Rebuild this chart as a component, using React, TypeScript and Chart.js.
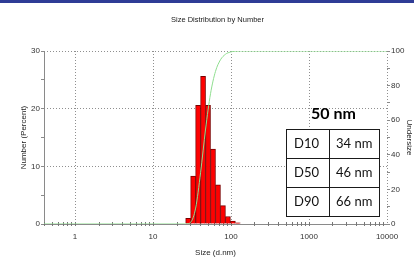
import React, { useEffect, useRef } from "react";
import { Chart, registerables } from "chart.js";

Chart.register(...registerables);

// ---- data ----
const chartTitle = "Size Distribution by Number";
const xTitle = "Size (d.nm)";
const yTitle = "Number (Percent)";
const y1Title = "Undersize";

const binSizes = [28.21, 32.67, 37.84, 43.82, 50.75, 58.77, 68.06, 78.82, 91.28, 105.7, 122.4];
const numberPercent = [1.0, 8.3, 20.6, 25.6, 20.6, 13.0, 6.8, 3.2, 1.3, 0.5, 0.2];

const undersizeSizes = [0.4, 26.2, 30.4, 35.2, 40.7, 47.2, 54.6, 63.2, 73.2, 84.8, 98.2, 113.7, 131.7, 10000];
const undersizeValues = [0, 0, 1.0, 9.2, 29.6, 54.9, 75.3, 88.2, 94.9, 98.1, 99.4, 99.9, 100, 100];

const xTickValues = [1, 10, 100, 1000, 10000];
const xMin = 0.4;
const xMax = 10000;

const headline = "50 nm";
const tableLabels = ["D10", "D50", "D90"];
const tableValues = ["34 nm", "46 nm", "66 nm"];

const TICK_FONT = "'Liberation Sans Narrow', 'Arial Narrow', 'Liberation Sans', Arial, sans-serif";
const TEXT_FONT = "'Liberation Sans', Arial, sans-serif";

const axisPlugin = {
  id: "axisLines",
  beforeDatasetsDraw(chart: any) {
    const { ctx, chartArea, scales } = chart;
    const { left, right, top, bottom } = chartArea;
    ctx.save();
    ctx.strokeStyle = "#8a8a8a";
    ctx.lineWidth = 1;
    ctx.setLineDash([]);
    ctx.beginPath();
    ctx.moveTo(left + 0.5, top);
    ctx.lineTo(left + 0.5, bottom + 0.5);
    ctx.lineTo(right, bottom + 0.5);
    ctx.stroke();
    // minor ticks along the log axis
    const xs = scales.x;
    ctx.strokeStyle = "#777";
    ctx.beginPath();
    for (let d = 0.1; d <= 1000; d *= 10) {
      for (let k = 1; k <= 9; k++) {
        const v = k * d;
        if (v < xMin || v > xMax) continue;
        const px = Math.round(xs.getPixelForValue(v)) + 0.5;
        ctx.moveTo(px, bottom - 2);
        ctx.lineTo(px, bottom + 2);
      }
    }
    ctx.stroke();
    ctx.restore();
  },
  afterDraw(chart: any) {
    const { ctx, chartArea } = chart;
    ctx.save();
    ctx.fillStyle = "#222";
    ctx.font = `7.5px ${TEXT_FONT}`;
    ctx.textAlign = "center";
    ctx.textBaseline = "middle";
    ctx.fillText(chartTitle, (chartArea.left + chartArea.right) / 2 + 2, 20);
    ctx.restore();
  },
};

function ChartCanvas() {
  const ref = useRef<HTMLCanvasElement | null>(null);
  useEffect(() => {
    if (!ref.current) return;
    const tickFont = { family: TICK_FONT, size: 8 };
    const titleFont = { family: TEXT_FONT, size: 8 };
    const chart = new Chart(ref.current, {
      type: "bar",
      data: {
        datasets: [
          {
            type: "line",
            data: undersizeSizes.map((x, i) => ({ x, y: undersizeValues[i] })),
            yAxisID: "y1",
            borderColor: "#8fde8f",
            borderWidth: 1,
            pointRadius: 0,
            cubicInterpolationMode: "monotone",
            fill: false,
            order: 1,
          } as any,
          {
            type: "bar",
            data: binSizes.map((x, i) => ({ x, y: numberPercent[i] })),
            yAxisID: "y",
            backgroundColor: "#ff0000",
            borderColor: "#7a0000",
            borderWidth: 1,
            barPercentage: 1,
            categoryPercentage: 1,
            order: 2,
          } as any,
        ],
      },
      options: {
        responsive: false,
        animation: false,
        devicePixelRatio: 1,
        layout: { padding: { top: 51, left: 0, right: 0, bottom: 0 } },
        plugins: {
          legend: { display: false },
          tooltip: { enabled: false },
          title: { display: false },
        },
        scales: {
          x: {
            type: "logarithmic",
            min: xMin,
            max: xMax,
            offset: false,
            afterBuildTicks: (s: any) => {
              s.ticks = xTickValues.map((v) => ({ value: v }));
            },
            afterFit: (s: any) => {
              s.height = 34;
            },
            ticks: {
              autoSkip: false,
              maxRotation: 0,
              padding: 8,
              color: "#333",
              font: tickFont,
              callback: (v: any) => String(v),
            },
            grid: { offset: false, color: "#8f8f8f", lineWidth: 1, drawTicks: false },
            border: { display: false, dash: [1, 2] },
            title: { display: true, text: xTitle, color: "#222", font: titleFont, padding: { top: 0, bottom: 0 } },
          },
          y: {
            type: "linear",
            position: "left",
            min: 0,
            max: 30,
            afterFit: (s: any) => {
              s.width = 44;
            },
            ticks: {
              stepSize: 5,
              padding: 1,
              color: "#333",
              font: tickFont,
              callback: (v: any) => (v % 10 === 0 ? String(v) : ""),
            },
            grid: {
              color: (c: any) => (c.tick && c.tick.value % 10 === 0 ? "#8f8f8f" : "rgba(0,0,0,0)"),
              tickColor: "#8a8a8a",
              tickLength: 3,
              tickBorderDash: [],
              lineWidth: 1,
            },
            border: { display: false, dash: [1, 2] },
            title: { display: true, text: yTitle, color: "#222", font: titleFont, padding: { top: 19, bottom: 0 } },
          },
          y1: {
            type: "linear",
            position: "right",
            min: 0,
            max: 100,
            afterFit: (s: any) => {
              s.width = 27;
            },
            ticks: {
              stepSize: 10,
              padding: 1,
              color: "#333",
              font: tickFont,
              callback: (v: any) => (v % 20 === 0 ? String(v) : ""),
            },
            grid: { drawOnChartArea: false, tickColor: "#8a8a8a", tickLength: 3, tickBorderDash: [] },
            border: { display: false },
            title: { display: true, text: y1Title, color: "#222", font: titleFont, padding: { top: 0, bottom: 0 } },
          },
        },
      } as any,
      plugins: [axisPlugin],
    });
    return () => chart.destroy();
  }, []);
  return <canvas ref={ref} width={414} height={258} style={{ display: "block" }} />;
}

export default function App() {
  const TL = 286;
  const TT = 129;
  const TW = 94;
  const ROW = 29.3;
  const COL = 42;
  const border = "1.5px solid #1a1a1a";
  const txt: React.CSSProperties = {
    position: "absolute",
    fontFamily: "Lato, 'Noto Sans', sans-serif",
    fontSize: 13,
    lineHeight: `${ROW}px`,
    color: "#111",
    whiteSpace: "nowrap",
  };
  return (
    <div style={{ position: "absolute", left: 0, top: 0, width: 414, height: 258, background: "#fff", overflow: "hidden" }}>
      <ChartCanvas />
      <div style={{ position: "absolute", left: 0, top: 0, width: 414, height: 3, background: "#2f3c96" }} />
      <div
        style={{
          position: "absolute",
          left: 311,
          top: 104,
          fontFamily: "Lato, 'Noto Sans', sans-serif",
          fontWeight: 700,
          fontSize: 16,
          lineHeight: "18px",
          color: "#000",
          whiteSpace: "nowrap",
        }}
      >
        {headline}
      </div>
      <div
        style={{
          position: "absolute",
          left: TL,
          top: TT,
          width: TW,
          height: ROW * 3,
          boxSizing: "border-box",
          border,
          background: "#fff",
        }}
      >
        <div style={{ position: "absolute", left: COL, top: 0, bottom: 0, borderLeft: border }} />
        {tableLabels.map((lab, i) => (
          <React.Fragment key={lab}>
            {i > 0 && (
              <div style={{ position: "absolute", left: 0, right: 0, top: i * ROW - 1.5, borderTop: border }} />
            )}
            <div style={{ ...txt, left: 7, top: i * ROW - 1.5 }}>{lab}</div>
            <div style={{ ...txt, left: COL + 7, top: i * ROW - 1.5 }}>{tableValues[i]}</div>
          </React.Fragment>
        ))}
      </div>
    </div>
  );
}
